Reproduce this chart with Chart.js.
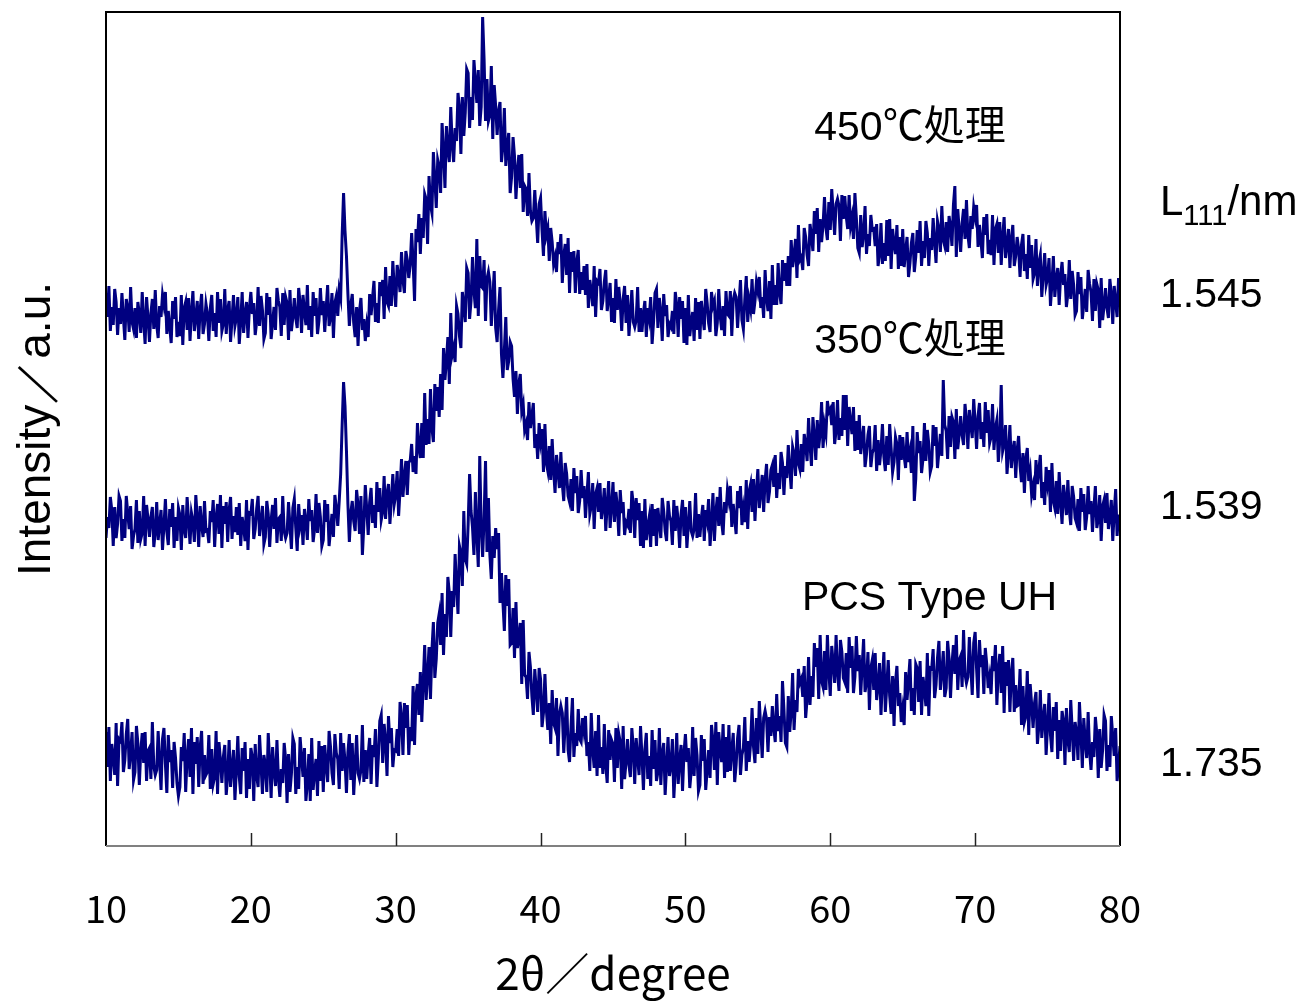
<!DOCTYPE html>
<html>
<head>
<meta charset="utf-8">
<title>XRD</title>
<script src="https://cdn.jsdelivr.net/npm/chart.js@4.4.1/dist/chart.umd.min.js"></script>
<style>
  html, body { margin: 0; padding: 0; background: #fff; }
  canvas { display: block; }
</style>
</head>
<body>
<canvas id="xrd" width="1308" height="1002"></canvas>
<script>
// scan: 10 - 80 deg, 0.1 deg per step (one row = one degree)
const scanStart = 10
const scanStep = 0.1

const angleTicks = [10, 20, 30, 40, 50, 60, 70, 80]

const seriesNames = ["450℃処理", "350℃処理", "PCS Type UH"]
const crystalSize = ["1.545", "1.539", "1.735"]

// intensity, a.u. (curves already offset)
const treated450 = [
  553, 529, 560, 515, 539, 521, 557, 544, 511, 538,
  522, 553, 529, 506, 547, 538, 514, 559, 524, 517,
  538, 508, 544, 532, 513, 554, 525, 502, 549, 528,
  504, 533, 547, 517, 556, 521, 508, 540, 529, 551,
  541, 554, 512, 535, 519, 503, 545, 527, 549, 509,
  524, 510, 551, 501, 538, 544, 516, 548, 505, 534,
  555, 515, 529, 545, 507, 537, 552, 512, 522, 542,
  532, 505, 538, 551, 515, 533, 509, 554, 523, 547,
  515, 522, 557, 512, 536, 545, 504, 527, 551, 520,
  528, 549, 502, 525, 554, 513, 532, 544, 508, 538,
  554, 532, 543, 511, 524, 559, 520, 550, 536, 507,
  513, 553, 531, 549, 507, 523, 539, 516, 558, 545,
  539, 510, 553, 521, 549, 543, 506, 556, 515, 529,
  548, 528, 518, 558, 543, 513, 551, 535, 521, 561,
  516, 540, 509, 554, 530, 548, 512, 525, 558, 531,
  545, 514, 538, 561, 520, 529, 553, 508, 543, 550,
  530, 556, 548, 610, 653, 615, 590, 552, 520, 541,
  552, 523, 509, 539, 500, 535, 548, 516, 527, 505,
  521, 509, 552, 531, 548, 565, 524, 543, 523, 564,
  550, 566, 527, 579, 544, 540, 570, 540, 585, 558,
  539, 581, 569, 554, 594, 566, 553, 595, 586, 568,
  581, 613, 584, 545, 617, 604, 632, 592, 628, 608,
  652, 647, 602, 670, 641, 633, 694, 667, 638, 686,
  679, 653, 723, 695, 658, 720, 697, 684, 739, 701,
  684, 718, 705, 753, 738, 692, 749, 710, 733, 777,
  773, 718, 749, 726, 786, 765, 743, 776, 720, 739,
  829, 787, 725, 767, 725, 731, 780, 707, 761, 740,
  711, 735, 744, 684, 700, 738, 680, 699, 713, 653,
  669, 709, 690, 647, 676, 691, 658, 692, 634, 660,
  657, 630, 673, 635, 625, 628, 656, 629, 603, 642,
  648, 616, 590, 635, 611, 618, 585, 618, 604, 582,
  589, 574, 604, 592, 612, 563, 590, 602, 571, 608,
  553, 594, 574, 595, 553, 584, 596, 552, 574, 556,
  580, 551, 582, 538, 566, 555, 540, 580, 529, 565,
  563, 577, 536, 545, 564, 576, 535, 548, 563, 524,
  548, 523, 567, 536, 559, 543, 515, 547, 560, 523,
  551, 510, 533, 556, 524, 519, 526, 559, 514, 538,
  514, 533, 545, 509, 538, 528, 549, 502, 524, 553,
  557, 518, 548, 534, 505, 552, 530, 541, 509, 522,
  519, 535, 512, 554, 541, 509, 549, 527, 545, 503,
  538, 501, 551, 510, 524, 534, 505, 548, 516, 544,
  507, 545, 529, 516, 557, 543, 523, 514, 554, 540,
  545, 510, 523, 557, 530, 516, 540, 510, 555, 532,
  530, 555, 510, 546, 553, 549, 518, 543, 566, 526,
  517, 547, 570, 524, 546, 537, 567, 532, 545, 564,
  555, 569, 538, 549, 528, 576, 548, 535, 565, 527,
  581, 541, 561, 541, 583, 553, 542, 586, 565, 583,
  560, 590, 560, 606, 579, 591, 607, 568, 621, 586,
  589, 576, 618, 609, 591, 580, 622, 610, 595, 635,
  612, 638, 594, 627, 604, 621, 649, 618, 606, 644,
  616, 657, 634, 611, 642, 647, 640, 605, 651, 627,
  650, 630, 617, 651, 620, 629, 607, 653, 628, 598,
  593, 631, 599, 612, 640, 592, 612, 600, 631, 616,
  617, 600, 622, 580, 592, 623, 582, 603, 585, 626,
  590, 627, 577, 617, 602, 592, 621, 577, 609, 580,
  617, 579, 595, 609, 569, 583, 603, 613, 574, 589,
  616, 593, 625, 580, 605, 588, 625, 613, 580, 608,
  596, 628, 605, 583, 625, 617, 594, 640, 606, 600,
  624, 594, 630, 619, 600, 641, 660, 589, 637, 616,
  594, 623, 637, 607, 646, 611, 598, 630, 617, 639,
  629, 641, 599, 621, 605, 588, 629, 611, 632, 592,
  606, 591, 631, 581, 617, 622, 593, 624, 581, 609,
  629, 588, 601, 617, 578, 607, 621, 580, 590, 609,
  597, 569, 601, 612, 575, 592, 567, 611, 578, 601,
  567, 573, 607, 560, 583, 591, 549, 571, 593, 561,
  568, 588, 540, 562, 590, 549, 567, 578, 541, 570,
  584, 561, 572, 539, 552, 586, 547, 575, 561, 531,
  535, 574, 552, 569, 527, 542, 557, 534, 576, 562,
  554, 525, 567, 535, 562, 556, 518, 568, 526, 540,
  558, 538, 528, 567, 552, 522, 560, 544, 529, 568,
  545
]

const treated350 = [
  308, 329, 318, 349, 336, 300, 339, 308, 322, 350,
  345, 305, 327, 308, 350, 333, 317, 340, 297, 310,
  317, 346, 303, 335, 307, 313, 350, 300, 341, 327,
  309, 329, 339, 299, 314, 344, 306, 322, 336, 296,
  320, 347, 314, 301, 337, 319, 343, 298, 329, 305,
  338, 331, 296, 341, 317, 308, 349, 326, 302, 333,
  325, 304, 351, 328, 299, 340, 321, 309, 345, 315,
  316, 303, 335, 324, 346, 299, 328, 342, 312, 351,
  298, 340, 322, 344, 304, 336, 349, 307, 330, 314,
  339, 311, 343, 300, 329, 319, 305, 346, 296, 333,
  332, 347, 307, 317, 337, 350, 310, 324, 340, 302,
  309, 345, 332, 299, 326, 341, 317, 348, 303, 327,
  329, 305, 350, 315, 308, 313, 344, 320, 297, 338,
  347, 318, 295, 342, 321, 331, 301, 337, 325, 306,
  347, 325, 336, 304, 317, 352, 313, 343, 329, 300,
  306, 346, 324, 342, 300, 316, 332, 309, 351, 338,
  320, 345, 372, 420, 464, 440, 395, 342, 304, 333,
  345, 325, 315, 356, 341, 312, 350, 291, 321, 361,
  337, 311, 344, 358, 323, 341, 318, 364, 334, 358,
  326, 334, 370, 327, 352, 362, 322, 346, 372, 342,
  351, 375, 330, 356, 387, 349, 370, 385, 351, 384,
  385, 402, 374, 390, 372, 423, 398, 388, 423, 388,
  453, 401, 427, 402, 457, 418, 404, 462, 435, 459,
  429, 472, 436, 498, 466, 485, 509, 462, 533, 491,
  498, 484, 540, 532, 510, 498, 554, 541, 524, 578,
  573, 527, 545, 589, 555, 538, 607, 530, 590, 560,
  558, 586, 525, 567, 574, 564, 520, 548, 575, 518,
  504, 536, 559, 492, 468, 496, 529, 476, 485, 504,
  500, 467, 449, 475, 432, 463, 472, 435, 442, 416,
  422, 406, 444, 418, 430, 443, 398, 412, 387, 423,
  405, 417, 374, 422, 383, 375, 400, 366, 407, 376,
  353, 391, 375, 358, 394, 362, 345, 383, 372, 350,
  344, 367, 335, 378, 353, 370, 333, 345, 376, 348,
  360, 328, 351, 374, 332, 340, 363, 317, 352, 358,
  334, 363, 327, 339, 358, 315, 342, 365, 318, 339,
  364, 324, 354, 339, 310, 356, 333, 344, 311, 324,
  321, 337, 313, 355, 342, 308, 348, 326, 343, 300,
  335, 298, 347, 306, 320, 329, 299, 342, 310, 337,
  300, 338, 322, 308, 348, 335, 315, 305, 345, 330,
  325, 301, 346, 315, 340, 325, 298, 332, 346, 310,
  339, 298, 321, 345, 315, 310, 317, 353, 308, 332,
  309, 328, 341, 305, 336, 326, 347, 300, 323, 353,
  305, 334, 349, 320, 359, 324, 311, 344, 333, 356,
  346, 360, 319, 342, 327, 312, 355, 338, 360, 321,
  337, 324, 366, 317, 355, 362, 334, 367, 325, 355,
  377, 338, 354, 371, 334, 366, 382, 343, 354, 376,
  381, 359, 391, 348, 373, 357, 394, 383, 351, 380,
  368, 401, 378, 357, 399, 392, 370, 416, 383, 377,
  402, 374, 412, 402, 385, 428, 401, 380, 429, 410,
  386, 426, 398, 413, 444, 398, 421, 412, 445, 434,
  437, 421, 444, 402, 415, 446, 406, 428, 410, 451,
  416, 451, 400, 439, 424, 412, 439, 395, 425, 396,
  431, 392, 407, 420, 379, 392, 411, 420, 379, 393,
  397, 421, 375, 406, 381, 396, 422, 389, 375, 410,
  381, 422, 398, 374, 384, 409, 402, 366, 411, 386,
  409, 390, 378, 414, 384, 394, 373, 420, 345, 367,
  414, 393, 405, 373, 387, 423, 385, 416, 402, 374,
  380, 421, 400, 419, 378, 395, 412, 390, 466, 421,
  415, 387, 430, 399, 429, 424, 387, 437, 397, 412,
  430, 411, 401, 442, 426, 397, 436, 421, 408, 447,
  424, 397, 430, 443, 407, 424, 399, 444, 413, 436,
  403, 409, 442, 396, 418, 426, 384, 405, 461, 395,
  402, 421, 372, 394, 421, 378, 395, 405, 368, 396,
  410, 380, 364, 393, 353, 387, 398, 365, 375, 351,
  360, 346, 386, 362, 376, 391, 348, 364, 341, 379,
  363, 376, 334, 383, 345, 338, 365, 332, 374, 344,
  322, 361, 347, 331, 366, 336, 321, 360, 349, 328,
  323, 347, 315, 358, 334, 352, 316, 329, 360, 332,
  345, 314, 338, 360, 318, 327, 351, 305, 340, 346,
  323, 353, 317, 329, 346, 305, 334, 357, 310, 330,
  330
]

const typeUH = [
  114, 79, 119, 65, 102, 89, 71, 123, 60, 107,
  105, 124, 74, 86, 112, 127, 77, 93, 114, 66,
  74, 120, 103, 61, 95, 113, 83, 114, 65, 95,
  98, 67, 124, 80, 71, 76, 115, 85, 56, 107,
  118, 82, 53, 111, 84, 96, 58, 104, 88, 63,
  50, 59, 99, 85, 113, 54, 89, 107, 69, 118,
  52, 104, 82, 109, 59, 99, 115, 62, 91, 71,
  74, 111, 57, 97, 62, 69, 115, 52, 104, 86,
  63, 89, 101, 51, 70, 106, 59, 79, 96, 46,
  76, 110, 69, 52, 98, 75, 104, 48, 87, 57,
  98, 89, 45, 102, 71, 59, 111, 82, 52, 91,
  81, 54, 113, 84, 48, 99, 75, 60, 106, 68,
  49, 77, 63, 103, 87, 43, 92, 54, 72, 108,
  102, 52, 79, 57, 109, 89, 69, 98, 45, 63,
  92, 45, 108, 56, 74, 87, 50, 105, 65, 100,
  54, 101, 81, 64, 115, 99, 73, 61, 112, 93,
  87, 57, 113, 75, 103, 85, 53, 94, 112, 66,
  103, 51, 81, 111, 73, 67, 76, 121, 64, 96,
  67, 92, 108, 62, 101, 89, 117, 59, 88, 125,
  131, 83, 122, 105, 70, 130, 103, 118, 79, 96,
  95, 117, 90, 144, 129, 91, 143, 118, 141, 91,
  119, 105, 160, 101, 151, 162, 131, 174, 124, 164,
  201, 146, 170, 199, 147, 196, 224, 168, 187, 223,
  232, 201, 253, 191, 232, 209, 269, 253, 209, 255,
  239, 292, 261, 232, 300, 293, 260, 335, 287, 282,
  322, 372, 335, 319, 291, 354, 312, 279, 390, 320,
  289, 327, 385, 294, 348, 291, 267, 310, 288, 318,
  297, 313, 243, 273, 244, 215, 271, 240, 267, 201,
  203, 238, 188, 244, 198, 209, 223, 162, 226, 171,
  169, 147, 194, 179, 150, 131, 177, 157, 134, 178,
  167, 119, 133, 172, 136, 116, 143, 102, 156, 123,
  118, 148, 90, 132, 140, 133, 93, 122, 149, 96,
  84, 119, 148, 89, 113, 100, 137, 107, 104, 128,
  115, 130, 90, 104, 75, 133, 96, 78, 115, 70,
  131, 78, 99, 72, 122, 81, 63, 116, 86, 106,
  102, 64, 118, 78, 112, 104, 57, 120, 67, 84,
  107, 81, 69, 118, 99, 62, 108, 88, 71, 120,
  90, 56, 97, 113, 67, 90, 60, 116, 77, 106,
  65, 74, 118, 61, 92, 103, 51, 80, 109, 70,
  80, 107, 48, 77, 113, 62, 86, 101, 55, 93,
  112, 84, 98, 58, 75, 119, 70, 108, 91, 55,
  61, 111, 85, 107, 56, 76, 96, 68, 121, 105,
  76, 124, 61, 114, 96, 84, 122, 68, 109, 74,
  121, 75, 96, 113, 64, 81, 108, 121, 71, 91,
  98, 129, 75, 105, 84, 103, 138, 99, 83, 128,
  92, 145, 117, 88, 128, 135, 127, 94, 129, 110,
  140, 118, 104, 152, 115, 130, 104, 165, 137, 103,
  99, 150, 114, 135, 173, 116, 146, 134, 177, 163,
  167, 149, 180, 128, 147, 189, 141, 170, 149, 203,
  179, 198, 147, 211, 165, 159, 195, 156, 211, 175,
  150, 200, 183, 163, 211, 174, 155, 206, 194, 168,
  164, 193, 153, 209, 178, 200, 153, 169, 210, 175,
  191, 151, 180, 207, 154, 164, 194, 136, 178, 186,
  156, 193, 146, 160, 183, 131, 166, 194, 134, 160,
  186, 150, 132, 170, 120, 164, 180, 140, 153, 124,
  137, 121, 174, 146, 166, 187, 135, 158, 131, 182,
  178, 144, 185, 131, 169, 157, 140, 193, 130, 178,
  177, 197, 148, 161, 188, 205, 156, 174, 195, 149,
  158, 205, 188, 148, 182, 201, 172, 211, 156, 186,
  190, 159, 216, 172, 163, 169, 209, 179, 151, 203,
  214, 177, 148, 206, 179, 191, 152, 198, 182, 158,
  169, 152, 190, 175, 201, 141, 176, 192, 153, 200,
  133, 184, 160, 186, 134, 173, 188, 134, 161, 140,
  141, 177, 121, 160, 124, 130, 175, 111, 162, 142,
  118, 143, 154, 102, 120, 156, 108, 127, 142, 91,
  120, 153, 111, 94, 139, 115, 144, 87, 126, 95,
  135, 125, 81, 138, 106, 94, 146, 116, 85, 124,
  113, 86, 144, 114, 78, 128, 104, 88, 134, 95,
  76, 104, 89, 129, 112, 68, 117, 78, 96, 131,
  125, 75, 101, 79, 130, 110, 90, 118, 65, 81,
  100
]

const lineColor = "#000080"

function toPoints(values) {
  let points = []
  for (let i = 0; i < values.length; i++) {
    points.push({ x: scanStart + i * scanStep, y: values[i] })
  }
  return points
}

function makeDataset(label, values) {
  return {
    label: label,
    data: toPoints(values),
    borderColor: lineColor,
    borderWidth: 3,
    pointRadius: 0,
    tension: 0,
    fill: false,
  }
}

// frame, inward ticks and text labels
const decorations = {
  id: "decorations",
  afterDraw(chart) {
    const ctx = chart.ctx
    const area = chart.chartArea
    const xs = chart.scales.x
    const ys = chart.scales.y

    ctx.save()
    ctx.lineWidth = 2
    ctx.strokeStyle = "#000"
    ctx.beginPath()
    ctx.moveTo(area.left, area.bottom)
    ctx.lineTo(area.left, area.top)
    ctx.lineTo(area.right, area.top)
    ctx.lineTo(area.right, area.bottom)
    ctx.stroke()

    ctx.strokeStyle = "#808080"
    ctx.beginPath()
    ctx.moveTo(area.left, area.bottom)
    ctx.lineTo(area.right, area.bottom)
    ctx.stroke()

    ctx.strokeStyle = "#222"
    ctx.lineWidth = 1.5
    for (let i = 1; i < angleTicks.length - 1; i++) {
      const px = Math.round(xs.getPixelForValue(angleTicks[i])) + 0.5
      ctx.beginPath()
      ctx.moveTo(px, area.bottom)
      ctx.lineTo(px, area.bottom - 13)
      ctx.stroke()
    }

    ctx.fillStyle = "#000"
    ctx.textBaseline = "alphabetic"
    ctx.font = '41px "Liberation Sans", "Noto Sans CJK JP"'

    // curve names inside the frame
    ctx.textAlign = "center"
    ctx.fillText(seriesNames[0], xs.getPixelForValue(65.5), ys.getPixelForValue(706))
    ctx.fillText(seriesNames[1], xs.getPixelForValue(65.5), ys.getPixelForValue(493))
    ctx.fillText(seriesNames[2], xs.getPixelForValue(66.85), ys.getPixelForValue(236))

    // crystallite size column on the right
    const colX = area.right + 40
    ctx.textAlign = "left"
    ctx.font = '42px "Liberation Sans"'
    const headY = ys.getPixelForValue(631)
    ctx.fillText("L", colX, headY)
    let w = ctx.measureText("L").width
    ctx.font = '29px "Liberation Sans"'
    ctx.fillText("111", colX + w, headY + 10)
    w += ctx.measureText("111").width
    ctx.font = '42px "Liberation Sans"'
    ctx.fillText("/nm", colX + w, headY)

    ctx.font = '41px "Liberation Sans"'
    ctx.fillText(crystalSize[0], colX, ys.getPixelForValue(539))
    ctx.fillText(crystalSize[1], colX, ys.getPixelForValue(327))
    ctx.fillText(crystalSize[2], colX, ys.getPixelForValue(70))
    ctx.restore()
  },
}

function drawChart() {
  const ctx = document.getElementById("xrd")

  new Chart(ctx, {
    type: "line",
    data: {
      datasets: [
        makeDataset(seriesNames[0], treated450),
        makeDataset(seriesNames[1], treated350),
        makeDataset(seriesNames[2], typeUH),
      ],
    },
    options: {
      responsive: false,
      animation: false,
      layout: { padding: { left: 0, top: 12, right: 188, bottom: 0 } },
      plugins: {
        legend: { display: false },
        tooltip: { enabled: false },
      },
      scales: {
        x: {
          type: "linear",
          min: 10,
          max: 80,
          afterBuildTicks: (scale) => {
            scale.ticks = angleTicks.map((v) => ({ value: v }))
          },
          afterFit: (scale) => {
            scale.height = 156
          },
          grid: { display: false, drawTicks: false },
          border: { display: false },
          ticks: {
            color: "#000",
            padding: 40,
            maxRotation: 0,
            font: { family: "Noto Sans CJK JP", size: 38 },
          },
          title: {
            display: true,
            text: "2θ／degree",
            color: "#000",
            padding: { top: 0, bottom: 2 },
            font: { family: "Noto Sans CJK JP", size: 44 },
          },
        },
        y: {
          min: 0,
          max: 834,
          afterFit: (scale) => {
            scale.width = 106
          },
          grid: { display: false, drawTicks: false },
          border: { display: false },
          ticks: { display: false },
          title: {
            display: true,
            text: "Intensity／a.u.",
            color: "#000",
            padding: { top: 10, bottom: 0 },
            font: { family: "Liberation Sans", size: 46 },
          },
        },
      },
    },
    plugins: [decorations],
  })
}

document.addEventListener("DOMContentLoaded", drawChart)
</script>
</body>
</html>
